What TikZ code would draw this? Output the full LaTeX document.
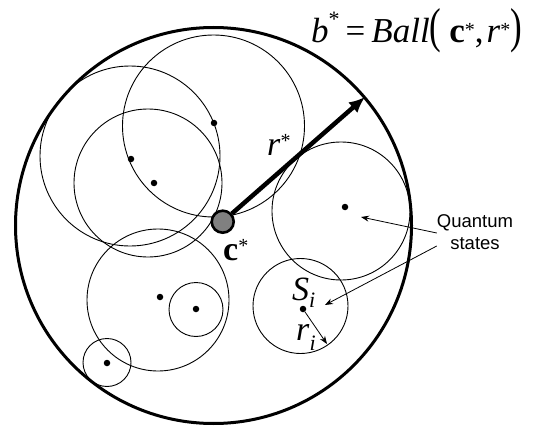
\documentclass[tikz,border=0pt]{standalone}
\usepackage{fontspec}
\usepackage{graphicx}
\setmainfont{Liberation Serif}
\newfontfamily\arialfont{Liberation Sans}
\usetikzlibrary{
    arrows.meta,
    positioning,
}
\newcommand{\st}[2][7pt]{\raisebox{#1}{\fontsize{#2}{#2}\selectfont *}}
\newcommand{\subi}[1][-7pt]{\raisebox{#1}{\fontsize{22}{22}\selectfont\itshape i}}
\newcommand{\tallpar}[1]{\scalebox{1}[1.4]{#1}}

\begin{document}
\begin{tikzpicture}[x=1pt, y=-1pt,
        outer/.style={line width=3pt},
        state/.style={line width=0.9pt},
        dot/.style={circle, fill=black, inner sep=0pt, minimum size=6.5pt},
        centre/.style={circle, draw, line width=2.6pt, fill=gray, inner sep=0pt, minimum size=22pt},
        lab/.style={font=\fontsize{34}{38}\selectfont, inner sep=0pt, anchor=base west},
        rad/.style={-{Latex[length=16pt, width=14pt]}, line width=4.5pt},
        ptr/.style={-{Stealth[length=8pt, width=6pt]}, line width=0.8pt},
    ]
        \useasboundingbox (0,0) rectangle (536,428);

        % Quantum states (centres and balls)
        \node[dot] (dA) at (214,123) {};
        \draw[state] (213.5,126) circle (91);
        \node[dot] (dB) at (131,159) {};
        \draw[state] (130,156) circle (90);
        \node[dot] (dC) at (154,183) {};
        \draw[state] (148,183) circle (74);
        \node[dot] (dD) at (345,207) {};
        \draw[state] (341,211) circle (69);
        \node[dot] (dS) at (303,309) {};
        \draw[state] (300.5,306) circle (47.5);
        \node[dot] (dE) at (160,297) {};
        \draw[state] (158,300) circle (71);
        \node[dot] (dF) at (196,309) {};
        \draw[state] (196,309.5) circle (27);
        \node[dot] (dG) at (107,363) {};
        \draw[state] (107,362.5) circle (24);

        % Minimal enclosing ball
        \draw[outer] (213.5,225.5) circle (198);
        \coordinate (tip) at (365,97);
        \node[centre] (cs) at (222.7,221.7) {};
        \draw[rad] (cs) -- (tip);

        % Labels
        \node[lab, font=\fontsize{35}{38}\selectfont] (ball) at (311,43)
            {\textit{b}\st[17pt]{22}\hspace{6pt}=\hspace{6pt}\textit{Ball}\tallpar{(}\hspace{8pt}\textbf{c}\st[6pt]{20},\hspace{3pt}\textit{r}\st[6pt]{20}\tallpar{)}};
        \node[lab] (rs) at (267,155) {\textit{r}\st[8pt]{20}};
        \node[lab] (cl) at (223,260) {\textbf{c}\st[8pt]{20}};
        \node[lab] (si) at (292,300) {\textit{S}\subi};
        \node[lab] (ri) at (296,340) {\textit{r}\subi[-10pt]};

        % Radius of S_i
        \coordinate (tR) at (327,344);
        \draw[ptr] (dS) -- (tR);

        % Annotation
        \node[font=\arialfont\fontsize{18.5}{22}\selectfont, align=center, inner sep=0pt]
            (qs) at (475,232) {Quantum\\states};
        \coordinate (tD) at (361,217);
        \coordinate (tS) at (325,305);
        \draw[ptr] ([yshift=-1pt]qs.west) -- (tD);
        \draw[ptr] ([yshift=-14pt]qs.west) -- (tS);
    \end{tikzpicture}
\end{document}
